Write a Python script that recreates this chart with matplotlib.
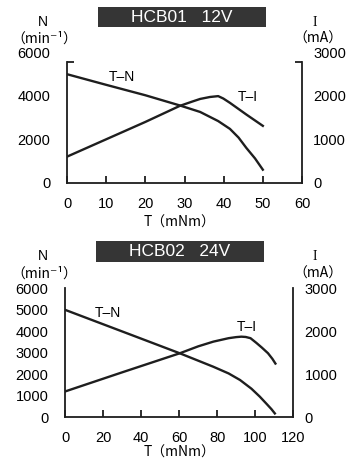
"""
Motor characteristic curves (T-N, T-I) for HCB01 and HCB02
"""
import matplotlib
matplotlib.use("Agg")
import matplotlib.pyplot as plt
from matplotlib.patches import Rectangle

plt.rcParams['font.family'] = ['Liberation Sans', 'Noto Sans CJK JP', 'DejaVu Sans']

# HCB01 12V  (torque mNm, speed min-1, current mA)
t_n_1 = [0, 10, 20, 28.8, 34, 38.6, 41.6, 43.8, 45.8, 48, 50]
n_1 = [5000, 4510, 4030, 3560, 3260, 2840, 2480, 2080, 1600, 1120, 600]
t_i_1 = [0, 10, 20, 28.8, 32, 34, 36.5, 38.6, 39.9, 41.6, 45.8, 50]
i_1 = [600, 1000, 1400, 1770, 1870, 1930, 1975, 1995, 1940, 1840, 1570, 1310]

# HCB02 24V
t_n_2 = [0, 20, 40, 60.4, 78, 86, 92, 98, 102.4, 106, 108.5, 110.3]
n_2 = [5000, 4330, 3660, 2975, 2350, 2040, 1735, 1330, 960, 620, 380, 180]
t_i_2 = [0, 30, 60.4, 70, 78, 86, 90, 92.7, 95, 97.5, 100.6, 103.5, 106.7, 109, 110.6]
i_2 = [600, 1045, 1490, 1650, 1760, 1840, 1865, 1875, 1868, 1840, 1730, 1620, 1490, 1360, 1250]

titles = ['HCB01   12V', 'HCB02   24V']
xmax = [60, 120]
xticks = [[0, 10, 20, 30, 40, 50, 60], [0, 20, 40, 60, 80, 100, 120]]
nticks = [[0, 2000, 4000, 6000], [0, 1000, 2000, 3000, 4000, 5000, 6000]]
iticks = [[0, 1000, 2000, 3000], [0, 1000, 2000, 3000]]

W, H = 354, 461
fig = plt.figure(figsize=(W / 100, H / 100), dpi=100)

LW = 1.7
COL = '#1e1e1e'
FS = 10.5


def px(x0, y0, x1, y1):
    """pixel box (left, top, right, bottom) -> figure rect"""
    return [x0 / W, 1 - y1 / H, (x1 - x0) / W, (y1 - y0) / H]


boxes = [px(67, 52.5, 302, 182.7), px(65, 288.3, 293.3, 417.3)]
spine_top = [5580, 6000]
title_box = [(98, 7, 265.5, 27.3), (96, 240.7, 264, 261.7)]
ylab_y = [(22, 39), (256, 274)]
xlab_y = [223, 453]
curve_lab = [((14, 4870), (46.2, 3950)), ((22.6, 4850), (95.5, 4200))]
data = [(t_n_1, n_1, t_i_1, i_1), (t_n_2, n_2, t_i_2, i_2)]

for k in range(2):
    ax = fig.add_axes(boxes[k])
    ax2 = ax.twinx()
    tn, n, ti, cur = data[k]

    ax.plot(tn, n, color=COL, lw=LW, solid_joinstyle='round')
    ax2.plot(ti, cur, color=COL, lw=LW, solid_joinstyle='round')

    ax.set_xlim(0, xmax[k])
    ax.set_ylim(0, 6000)
    ax2.set_ylim(0, 3000)
    ax.set_xticks(xticks[k])
    ax.set_yticks(nticks[k])
    ax2.set_yticks(iticks[k])

    for a in (ax, ax2):
        a.spines['top'].set_visible(False)
        for s in a.spines.values():
            s.set_linewidth(1.3)
            s.set_color(COL)
    ax.spines['right'].set_visible(False)
    ax2.spines['left'].set_visible(False)
    ax2.spines['bottom'].set_visible(False)
    ax.spines['left'].set_bounds(0, spine_top[k])
    ax2.spines['right'].set_bounds(0, spine_top[k] / 2)

    # labels from major ticks, marks from minor ticks
    ax.tick_params(axis='y', which='major', length=0, pad=12, labelsize=FS)
    ax2.tick_params(axis='y', which='major', length=0, pad=8, labelsize=FS)
    ax.set_yticks([v for v in nticks[k][1:-1]] + [spine_top[k]], minor=True)
    ax2.set_yticks([v for v in iticks[k][1:-1]] + [spine_top[k] / 2], minor=True)
    ax.tick_params(axis='y', which='minor', direction='in', length=5, width=1.3, color=COL)
    ax2.tick_params(axis='y', which='minor', direction='in', length=5, width=1.3, color=COL)
    ax.tick_params(axis='x', direction='in', length=5, width=1.3, color=COL,
                   pad=10, labelsize=FS)

    (xa, ya), (xb, yb) = curve_lab[k]
    ax.text(xa, ya, 'T–N', fontsize=10, ha='center', va='center')
    ax.text(xb, yb, 'T–I', fontsize=10, ha='center', va='center')

    x0, y0, x1, y1 = title_box[k]
    fig.patches.append(Rectangle((x0 / W, 1 - y1 / H), (x1 - x0) / W, (y1 - y0) / H,
                                 transform=fig.transFigure, facecolor='#353535',
                                 edgecolor='none'))
    fig.text((x0 + x1) / 2 / W, 1 - (y0 + y1) / 2 / H, titles[k], color='white',
             fontsize=12.5, ha='center', va='center')

    ya1, ya2 = ylab_y[k]
    fig.text(43 / W, 1 - ya1 / H, 'N', fontsize=10, ha='center', va='center')
    fig.text(44 / W, 1 - ya2 / H, '（min⁻¹）', fontsize=10, ha='center', va='center',
             family=['Noto Sans CJK JP', 'DejaVu Sans'])
    fig.text(315 / W, 1 - ya1 / H, 'I', fontsize=10, ha='center', va='center',
             family='Liberation Serif')
    fig.text(318 / W, 1 - ya2 / H, '（mA）', fontsize=10, ha='center', va='center',
             family=['Noto Sans CJK JP', 'DejaVu Sans'])
    fig.text(180 / W, 1 - xlab_y[k] / H, 'T（mNm）', fontsize=10, ha='center', va='center',
             family=['Noto Sans CJK JP', 'DejaVu Sans'])

fig.savefig('out.png', dpi=100)
